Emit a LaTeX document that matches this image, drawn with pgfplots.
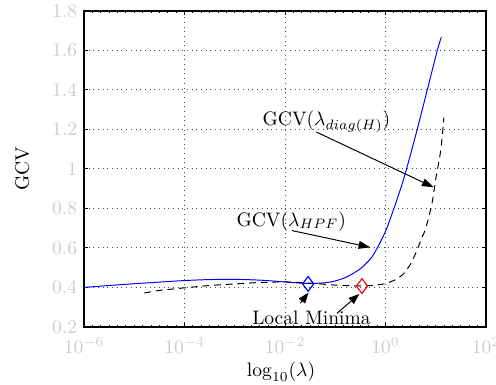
\documentclass[border=0pt]{standalone}
\usepackage{pgfplots}
\pgfplotsset{compat=1.18}
\usetikzlibrary{arrows.meta}
\begin{document}
\begin{tikzpicture}
\begin{axis}[
  name=ax,
  scale only axis, width=206.2pt, height=162.1pt,
  xmin=-6, xmax=2, ymin=0.2, ymax=1.8,
  xtick={-6,-4,-2,0,2},
  xticklabels={$10^{-6}$,$10^{-4}$,$10^{-2}$,$10^{0}$,$10^{2}$},
  ytick={0.2,0.4,0.6,0.8,1,1.2,1.4,1.6,1.8},
  yticklabels={0.2,0.4,0.6,0.8,1,1.2,1.4,1.6,1.8},
  minor x tick num=11,
  grid=major,
  major grid style={dotted, black!70, line width=0.5pt},
  tick label style={color=black!20},
  xticklabel style={yshift=-2pt},
  tick style={black, line width=0.5pt},
  major tick length=2pt, minor tick length=1.2pt,
  axis line style={line width=0.8pt},
  xlabel={$\log_{10}(\lambda)$}, ylabel={GCV},
  xlabel style={at={(axis description cs:0.49,-0.142)}, anchor=center},
  ylabel style={at={(axis description cs:-0.154,0.5)}, anchor=center},
  clip=false,
]
% blue: GCV(lambda_HPF)
\addplot[blue, line width=0.5pt, smooth, mark=none] coordinates {
(-6,0.400) (-5.5,0.410) (-5,0.419) (-4.5,0.427) (-4,0.435) (-3.5,0.440)
(-3,0.441) (-2.5,0.437) (-2,0.428) (-1.54,0.420) (-1.2,0.424) (-1,0.433)
(-0.76,0.455) (-0.5,0.495) (-0.3,0.545) (-0.165,0.600) (0,0.685) (0.153,0.790)
(0.3,0.900) (0.418,1.000) (0.63,1.200) (0.83,1.400) (1.03,1.600) (1.11,1.667)
};
% dashed: GCV(lambda_diag(H))
\addplot[black, line width=0.5pt, dash pattern=on 3.5pt off 2.5pt, smooth, mark=none] coordinates {
(-4.8,0.372) (-4.5,0.385) (-4,0.398) (-3.5,0.410) (-3,0.418) (-2.5,0.425)
(-2,0.428) (-1.5,0.422) (-1,0.412) (-0.47,0.408) (-0.2,0.412) (0,0.420)
(0.2,0.440) (0.36,0.470) (0.5,0.520) (0.62,0.585) (0.72,0.650) (0.8,0.700)
(0.92,0.820) (1.0,0.950) (1.09,1.080) (1.13,1.170) (1.16,1.260)
};
% local minima markers
\addplot[blue, only marks, mark=diamond, mark size=3.8pt, mark options={line width=0.6pt}] coordinates {(-1.54,0.418)};
\addplot[red, only marks, mark=diamond, mark size=3.8pt, mark options={line width=0.6pt}] coordinates {(-0.47,0.407)};
% annotations
\node[anchor=base west, inner sep=0pt] at (axis cs:-2.454,1.218) {GCV($\lambda_{diag(H)}$)};
\draw[line width=0.5pt, -{Triangle[length=6pt,width=4pt]}] (axis cs:-1.378,1.187) -- (axis cs:0.958,0.907);
\node[anchor=base west, inner sep=0pt] at (axis cs:-2.972,0.711) {GCV($\lambda_{HPF}$)};
\draw[line width=0.5pt, -{Triangle[length=6pt,width=4pt]}] (axis cs:-1.863,0.688) -- (axis cs:-0.303,0.603);
\node[anchor=base west, inner sep=0pt] at (axis cs:-2.66,0.215) {Local Minima};
\draw[line width=0.5pt, -{Triangle[length=5.5pt,width=4pt]}] (axis cs:-1.697,0.320) -- (axis cs:-1.532,0.374);
\draw[line width=0.5pt, -{Triangle[length=5.5pt,width=4pt]}] (axis cs:-0.967,0.269) -- (axis cs:-0.522,0.367);
\end{axis}
\pgfresetboundingbox
\path[use as bounding box] ([xshift=-43.1pt,yshift=-29.7pt]ax.south west) rectangle ([xshift=5.1pt,yshift=5.6pt]ax.north east);
\end{tikzpicture}
\end{document}
